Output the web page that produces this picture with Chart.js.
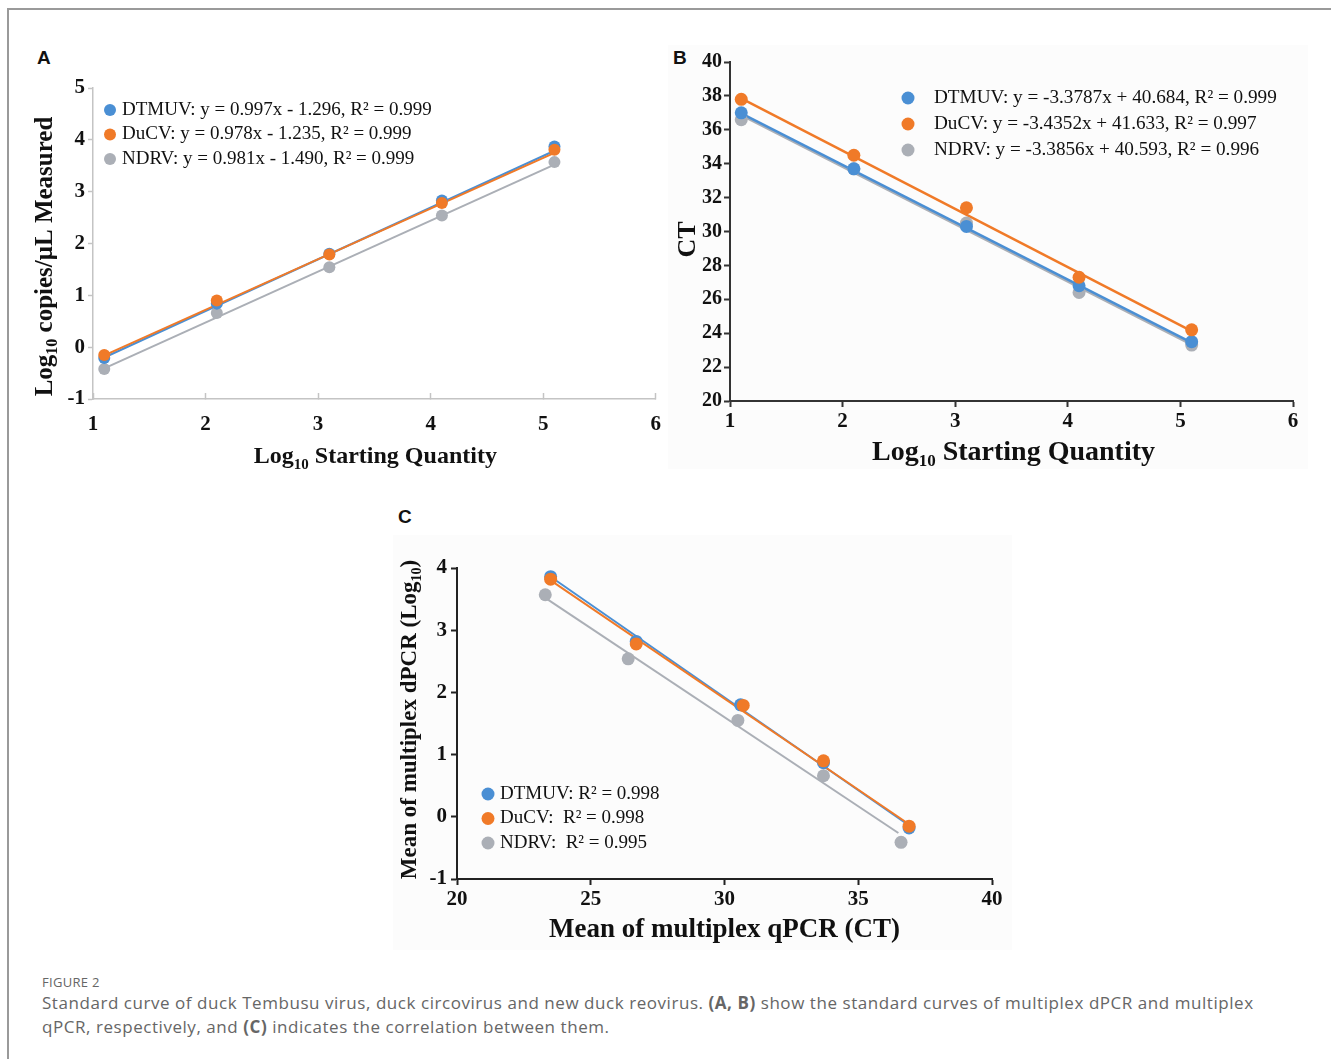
<!DOCTYPE html>
<html>
<head>
<meta charset="utf-8">
<script src="https://cdn.jsdelivr.net/npm/chart.js@4.4.1/dist/chart.umd.min.js"></script>
<style>
  body { margin: 0; background: #fff; width: 1331px; height: 1059px; overflow: hidden; position: relative; }
  .frame { position: absolute; left: 7px; top: 8px; right: -10px; bottom: -10px; border-left: 2px solid #9a9a9a; border-top: 2px solid #9a9a9a; }
  .panel { position: absolute; }
  .shade { position: absolute; background: #fcfcfc; }
  .letter { position: absolute; font: bold 19px 'Liberation Sans', Arial, sans-serif; color: #111; }
  .caption { position: absolute; left: 42px; font-family: 'Open Sans', 'Noto Sans', sans-serif; color: #666; white-space: nowrap; }
  #fig_label { top: 973px; font-size: 13px; letter-spacing: 0.3px; }
  #fig_text { top: 991px; font-size: 17px; line-height: 24px; letter-spacing: 0.55px; }
</style>
</head>
<body>
<div class="frame"></div>
<div class="shade" style="left:668px; top:45px; width:640px; height:424px"></div>
<div class="shade" style="left:393px; top:535px; width:619px; height:415px"></div>

<div class="letter" style="left:37px; top:47px">A</div>
<div class="letter" style="left:673px; top:47px">B</div>
<div class="letter" style="left:398px; top:506px">C</div>

<div class="panel" style="left:20px; top:40px; width:660px; height:440px"><canvas id="id_canv_a"></canvas></div>
<div class="panel" style="left:660px; top:40px; width:660px; height:440px"><canvas id="id_canv_b"></canvas></div>
<div class="panel" style="left:385px; top:525px; width:640px; height:430px"><canvas id="id_canv_c"></canvas></div>

<div class="caption" id="fig_label">FIGURE 2</div>
<div class="caption" id="fig_text">Standard curve of duck Tembusu virus, duck circovirus and new duck reovirus. <b>(A, B)</b> show the standard curves of multiplex dPCR and multiplex<br>qPCR, respectively, and <b>(C)</b> indicates the correlation between them.</div>

<script>
// ---- Data ----
const series_names = ['DTMUV', 'DuCV', 'NDRV']
const series_colors = ['#4a8fd4', '#f07a28', '#abafb6']

// Panel A: dPCR standard curve
const a_x = [1.1, 2.1, 3.1, 4.1, 5.1]
const a_dtmuv = [-0.21, 0.84, 1.80, 2.83, 3.87]
const a_ducv = [-0.15, 0.90, 1.79, 2.78, 3.81]
const a_ndrv = [-0.42, 0.66, 1.54, 2.54, 3.57]
const a_fit_x = [1.1, 5.1]
const a_fit_dtmuv = [-0.20, 3.79]
const a_fit_ducv = [-0.16, 3.75]
const a_fit_ndrv = [-0.41, 3.52]
const a_legend = ['DTMUV: y = 0.997x - 1.296, R\u00b2 = 0.999', 'DuCV: y = 0.978x - 1.235, R\u00b2 = 0.999', 'NDRV: y = 0.981x - 1.490, R\u00b2 = 0.999']
const a_x_ticks = [1, 2, 3, 4, 5, 6]
const a_y_ticks = [-1, 0, 1, 2, 3, 4, 5]

// Panel B: qPCR standard curve
const b_x = [1.1, 2.1, 3.1, 4.1, 5.1]
const b_dtmuv = [37.0, 33.7, 30.3, 26.8, 23.5]
const b_ducv = [37.8, 34.5, 31.4, 27.3, 24.2]
const b_ndrv = [36.6, 33.7, 30.5, 26.4, 23.3]
const b_fit_x = [1.1, 5.1]
const b_fit_dtmuv = [36.97, 23.45]
const b_fit_ducv = [37.86, 24.12]
const b_fit_ndrv = [36.87, 23.33]
const b_legend = ['DTMUV: y = -3.3787x + 40.684, R\u00b2 = 0.999', 'DuCV: y = -3.4352x + 41.633, R\u00b2 = 0.997', 'NDRV: y = -3.3856x + 40.593, R\u00b2 = 0.996']
const b_x_ticks = [1, 2, 3, 4, 5, 6]
const b_y_ticks = [20, 22, 24, 26, 28, 30, 32, 34, 36, 38, 40]

// Panel C: correlation between qPCR (CT) and dPCR (log10)
const c_x_dtmuv = [23.5, 26.7, 30.6, 33.7, 36.9]
const c_y_dtmuv = [3.86, 2.82, 1.80, 0.87, -0.18]
const c_x_ducv = [23.5, 26.7, 30.7, 33.7, 36.9]
const c_y_ducv = [3.82, 2.78, 1.79, 0.90, -0.15]
const c_x_ndrv = [23.3, 26.4, 30.5, 33.7, 36.6]
const c_y_ndrv = [3.57, 2.54, 1.55, 0.66, -0.41]
const c_fit_x_dtmuv = [23.5, 36.9]
const c_fit_y_dtmuv = [3.86, -0.14]
const c_fit_x_ducv = [23.5, 36.9]
const c_fit_y_ducv = [3.80, -0.12]
const c_fit_x_ndrv = [23.3, 36.5]
const c_fit_y_ndrv = [3.52, -0.26]
const c_legend = ['DTMUV: R\u00b2 = 0.998', 'DuCV:  R\u00b2 = 0.998', 'NDRV:  R\u00b2 = 0.995']
const c_x_ticks = [20, 25, 30, 35, 40]
const c_y_ticks = [-1, 0, 1, 2, 3, 4]

const SERIF = "'Liberation Serif', 'Times New Roman', serif"

/* zips two arrays into {x, y} points */
function pts(xs, ys) {
  return ys.map((y, i) => ({ x: xs[i], y: y }))
}

/* draws text made of normal and subscript pieces, centred on (cx, cy) */
function drawRich(ctx, parts, cx, cy, size, rotated) {
  ctx.save()
  ctx.translate(cx, cy)
  if (rotated) ctx.rotate(-Math.PI / 2)
  let width = 0
  parts.forEach((p) => {
    ctx.font = `bold ${p.sub ? Math.round(size * 0.62) : size}px ${SERIF}`
    p.w = ctx.measureText(p.t).width
    width += p.w
  })
  let x = -width / 2
  ctx.fillStyle = '#111'
  ctx.textBaseline = 'alphabetic'
  ctx.textAlign = 'left'
  parts.forEach((p) => {
    ctx.font = `bold ${p.sub ? Math.round(size * 0.62) : size}px ${SERIF}`
    ctx.fillText(p.t, x, size * 0.35 + (p.sub ? size * 0.22 : 0))
    x += p.w
  })
  ctx.restore()
}

/* plugin: legend inside the plot area plus axis titles with subscripts */
const panelDecor = {
  id: 'panelDecor',
  afterDraw(chart, args, opts) {
    let ctx = chart.ctx
    let area = chart.chartArea
    // legend
    ctx.save()
    ctx.font = `${opts.legendSize}px ${SERIF}`
    ctx.textBaseline = 'middle'
    opts.legend.forEach((txt, i) => {
      let y = area.top + opts.legendY + i * opts.legendGap
      let x = area.left + opts.legendX
      ctx.beginPath()
      ctx.arc(x, y, opts.markR, 0, Math.PI * 2)
      ctx.fillStyle = series_colors[i]
      ctx.fill()
      ctx.fillStyle = '#111'
      ctx.fillText(txt, x + opts.textGap, y)
    })
    ctx.restore()
    // axis titles
    let midX = (area.left + area.right) / 2
    let midY = (area.top + area.bottom) / 2
    drawRich(ctx, opts.xTitle, midX + opts.xTitleDx, area.bottom + opts.xTitleDy, opts.xTitleSize, false)
    drawRich(ctx, opts.yTitle, area.left + opts.yTitleDx, midY + opts.yTitleDy, opts.yTitleSize, true)
  }
}

/* builds the scatter datasets: fitted lines underneath, points on top */
function makeDatasets(points, fits, lineWidth, radius) {
  let sets = []
  // draw order: orange on top, then blue, then grey
  let stack = [1, 0, 2]
  points.forEach((p, i) => {
    sets.push({
      label: series_names[i],
      data: p,
      backgroundColor: series_colors[i],
      borderColor: series_colors[i],
      pointRadius: radius,
      pointBorderWidth: 0,
      showLine: false,
      order: stack.indexOf(i)
    })
  })
  fits.forEach((f, i) => {
    sets.push({
      label: series_names[i] + ' fit',
      data: f,
      borderColor: series_colors[i],
      borderWidth: lineWidth,
      pointRadius: 0,
      showLine: true,
      order: 10 + stack.indexOf(i)
    })
  })
  return sets
}

function makeScale(min, max, ticks, cfg) {
  return {
    type: 'linear',
    min: min,
    max: max,
    afterBuildTicks: (s) => { s.ticks = ticks.map((v) => ({ value: v })) },
    afterFit: (s) => { if (s.isHorizontal()) s.height = cfg.size; else s.width = cfg.size },
    grid: { drawOnChartArea: false, drawTicks: true, tickLength: cfg.tick, tickWidth: cfg.lw, tickColor: cfg.color },
    border: { display: true, color: cfg.color, width: cfg.lw },
    ticks: {
      padding: cfg.pad,
      color: '#111',
      font: { family: SERIF, weight: 'bold', size: cfg.font },
      callback: (v) => String(v)
    }
  }
}

function draw_panel(id, datasets, scales, padding, decor) {
  new Chart(document.getElementById(id), {
    type: 'scatter',
    data: { datasets: datasets },
    options: {
      responsive: true,
      maintainAspectRatio: false,
      animation: false,
      layout: { padding: padding },
      scales: scales,
      plugins: { legend: { display: false }, tooltip: { enabled: false }, panelDecor: decor }
    },
    plugins: [panelDecor]
  })
}

// Panel A
draw_panel('id_canv_a',
  makeDatasets(
    [pts(a_x, a_dtmuv), pts(a_x, a_ducv), pts(a_x, a_ndrv)],
    [pts(a_fit_x, a_fit_dtmuv), pts(a_fit_x, a_fit_ducv), pts(a_fit_x, a_fit_ndrv)], 2, 6),
  {
    x: makeScale(1, 6, a_x_ticks, { size: 81, tick: -6, pad: 19, lw: 1.5, color: '#c4c4c4', font: 21 }),
    y: makeScale(-1, 5, a_y_ticks, { size: 73, tick: 5, pad: 3, lw: 1.5, color: '#c4c4c4', font: 21 })
  },
  { top: 48, right: 24, left: 0, bottom: 0 },
  {
    legend: a_legend, legendX: 17, legendY: 22, legendGap: 24.5, legendSize: 19, markR: 6, textGap: 12,
    xTitle: [{ t: 'Log' }, { t: '10', sub: true }, { t: ' Starting Quantity' }], xTitleDx: 1, xTitleDy: 56, xTitleSize: 24,
    yTitle: [{ t: 'Log' }, { t: '10', sub: true }, { t: ' copies/\u03bcL Measured' }], yTitleDx: -50, yTitleDy: 13, yTitleSize: 25
  })

// Panel B
draw_panel('id_canv_b',
  makeDatasets(
    [pts(b_x, b_dtmuv), pts(b_x, b_ducv), pts(b_x, b_ndrv)],
    [pts(b_fit_x, b_fit_dtmuv), pts(b_fit_x, b_fit_ducv), pts(b_fit_x, b_fit_ndrv)], 2.5, 6.5),
  {
    x: makeScale(1, 6, b_x_ticks, { size: 79, tick: 6, pad: 2, lw: 2, color: '#333', font: 21 }),
    y: makeScale(20, 40, b_y_ticks, { size: 70, tick: 6, pad: 2, lw: 2, color: '#333', font: 20 })
  },
  { top: 22, right: 27, left: 0, bottom: 0 },
  {
    legend: b_legend, legendX: 178, legendY: 36, legendGap: 26, legendSize: 19.2, markR: 6.5, textGap: 26,
    xTitle: [{ t: 'Log' }, { t: '10', sub: true }, { t: ' Starting Quantity' }], xTitleDx: 2, xTitleDy: 49, xTitleSize: 28,
    yTitle: [{ t: 'CT' }], yTitleDx: -44, yTitleDy: 8, yTitleSize: 26
  })

// Panel C
draw_panel('id_canv_c',
  makeDatasets(
    [pts(c_x_dtmuv, c_y_dtmuv), pts(c_x_ducv, c_y_ducv), pts(c_x_ndrv, c_y_ndrv)],
    [pts(c_fit_x_dtmuv, c_fit_y_dtmuv), pts(c_fit_x_ducv, c_fit_y_ducv), pts(c_fit_x_ndrv, c_fit_y_ndrv)], 2, 6.5),
  {
    x: makeScale(20, 40, c_x_ticks, { size: 76, tick: 6, pad: 2, lw: 2, color: '#222', font: 21 }),
    y: makeScale(-1, 4, c_y_ticks, { size: 72, tick: 6, pad: 4, lw: 2, color: '#222', font: 21 })
  },
  { top: 43, right: 33, left: 0, bottom: 0 },
  {
    legend: c_legend, legendX: 31, legendY: 226, legendGap: 24.5, legendSize: 19, markR: 6.5, textGap: 12,
    xTitle: [{ t: 'Mean of multiplex qPCR (CT)' }], xTitleDx: 0, xTitleDy: 49, xTitleSize: 27,
    yTitle: [{ t: 'Mean of multiplex dPCR (Log' }, { t: '10', sub: true }, { t: ')' }], yTitleDx: -49, yTitleDy: -4, yTitleSize: 23
  })
</script>
</body>
</html>
